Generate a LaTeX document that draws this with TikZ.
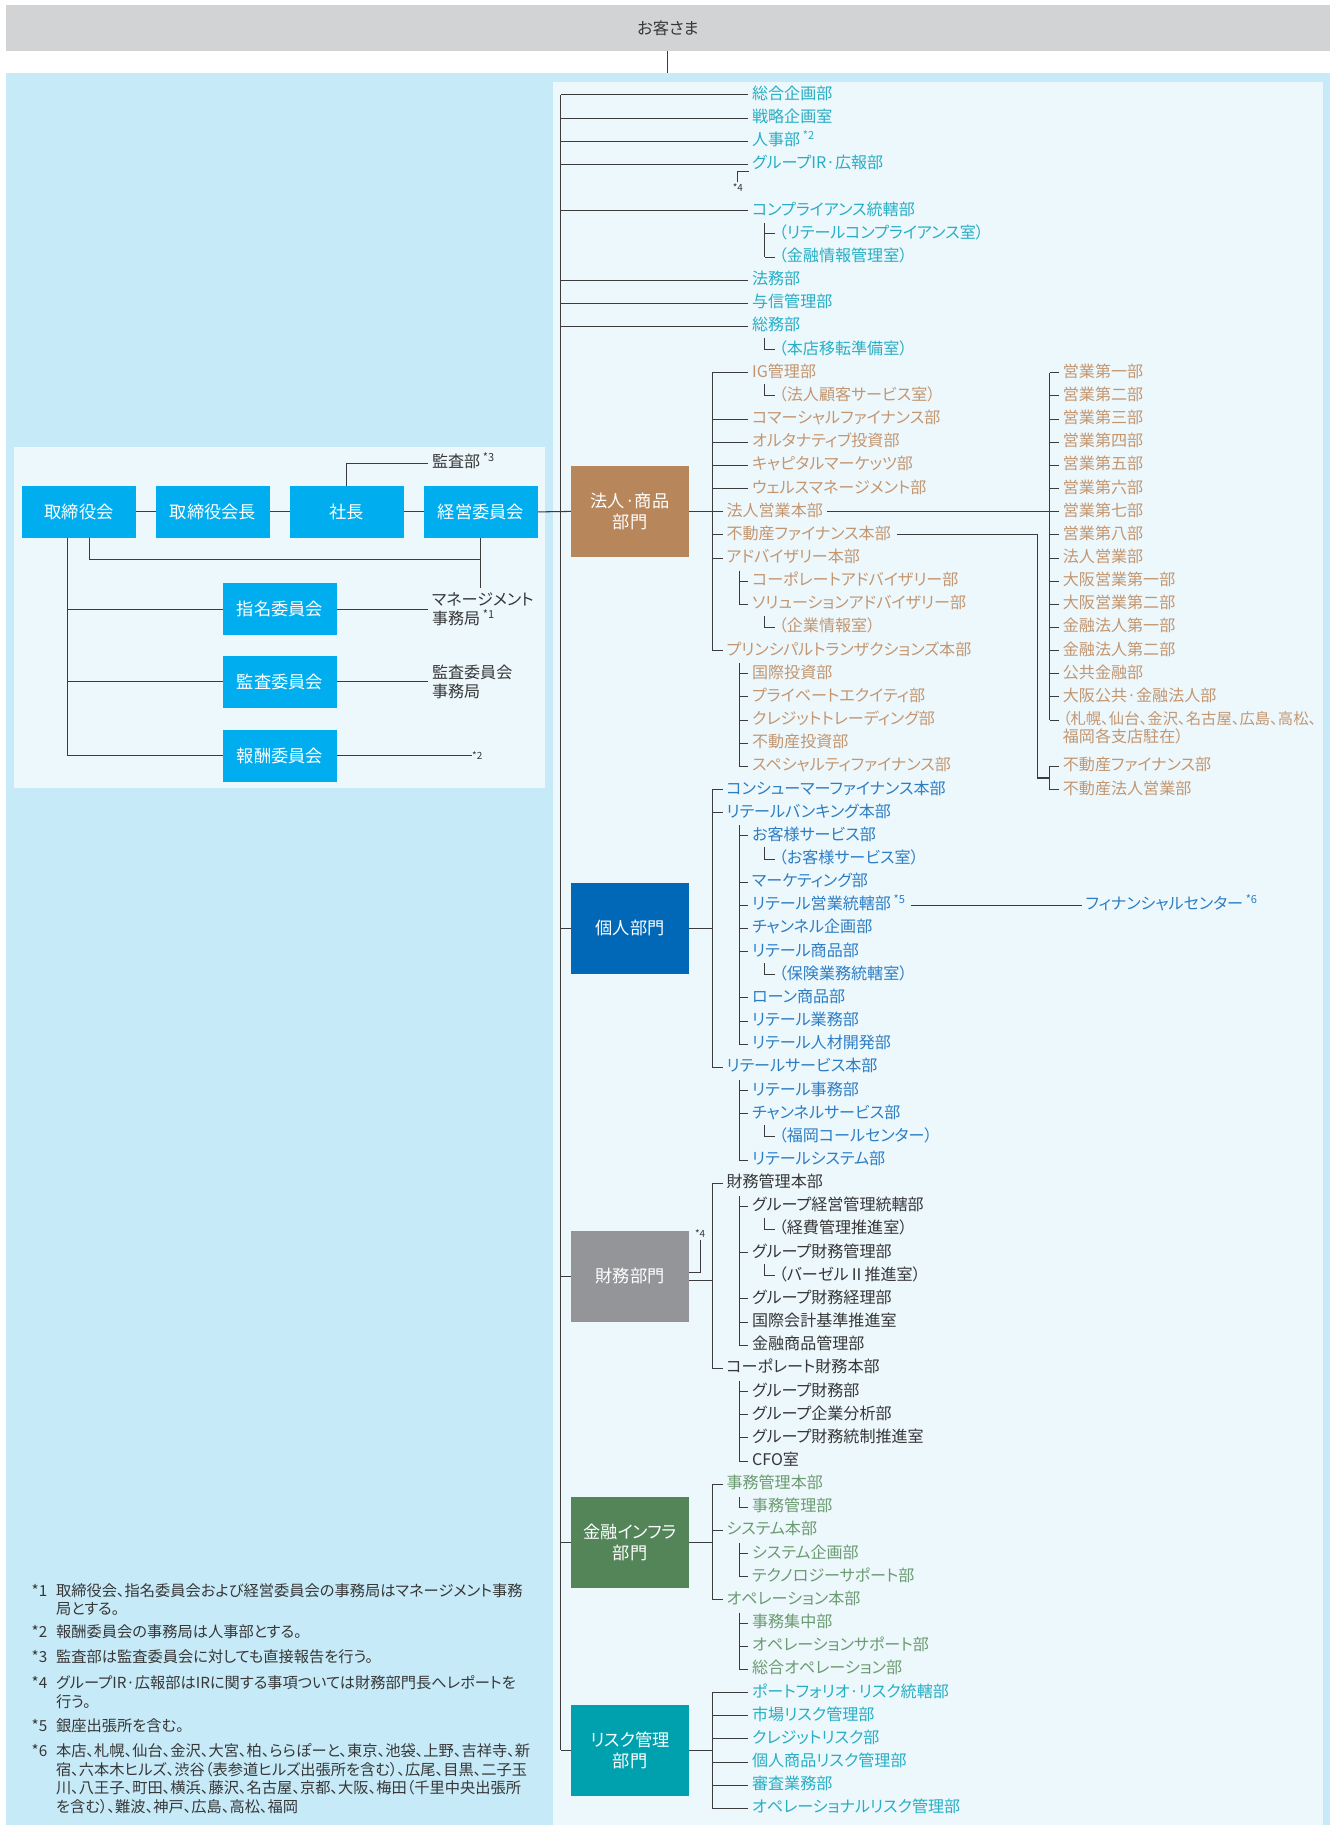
\documentclass[tikz,border=0pt]{standalone}
\usepackage{fontspec}
\setmainfont{Noto Sans CJK JP}[RawFeature={+palt}]
\definecolor{graybar}{RGB}{209,211,212}
\definecolor{bgblue}{RGB}{199,234,248}
\definecolor{panel}{RGB}{237,248,253}
\definecolor{linec}{RGB}{60,60,60}
\definecolor{boardc}{RGB}{0,174,239}
\definecolor{brbox}{RGB}{184,134,91}
\definecolor{blbox}{RGB}{0,104,183}
\definecolor{gybox}{RGB}{147,149,152}
\definecolor{grbox}{RGB}{83,133,89}
\definecolor{tlbox}{RGB}{0,161,175}
\definecolor{ctl}{RGB}{40,174,196}
\definecolor{cbr}{RGB}{195,150,112}
\definecolor{cbl}{RGB}{45,125,195}
\definecolor{cdk}{RGB}{55,55,55}
\definecolor{cgr}{RGB}{107,155,112}
\newcommand\ry[1]{(81.6+19.893*(#1))}
\newcommand\sast[1]{\,\raisebox{0.36em}{\fontsize{9.5}{9.5}\selectfont *#1}}
\newcommand\kids[3]{\draw[ln] (635,{\ry{#1}-9}) -- (635,{\ry{#2}}); \foreach \n in {#3} {\draw[ln] (\n.west) -- +(-8,0);}}
\newcommand\subl[1]{\draw[ln] (#1.west) -| +(-9,-10);}
\tikzset{
 ln/.style={draw=linec,line width=0.9pt},
 lbl/.style={anchor=west,inner xsep=3pt,inner ysep=0pt,text height=0.88em,text depth=0.12em,font=\fontsize{13.8}{16}\selectfont},
 mlbl/.style={anchor=west,inner xsep=3pt,inner ysep=0pt,align=left,text=cdk,font=\fontsize{13.8}{15.8}\selectfont},
 dept/.style={minimum width=101.4pt,minimum height=78pt,inner sep=0pt,text=white,align=center,font=\fontsize{14.8}{17.8}\selectfont},
 brd/.style={fill=boardc,minimum width=98pt,minimum height=44.4pt,inner sep=0pt,text=white,font=\fontsize{14.8}{17}\selectfont},
 tinyl/.style={inner sep=0pt,font=\fontsize{8.5}{8.5}\selectfont,text=cdk},
 fn/.style={anchor=west,inner sep=0pt,text height=0.88em,text depth=0.12em,text=cdk,font=\fontsize{13.1}{15}\selectfont},
}
\begin{document}
\begin{tikzpicture}[x=1pt,y=-1pt]
\useasboundingbox (0,0) rectangle (1147,1568);
% backgrounds
\fill[bgblue] (5,62.4) rectangle (1142.7,1568);
\fill[panel] (474.8,70.2) rectangle (1137,1568);
\fill[panel] (11.7,383.8) rectangle (468,677.3);
\node[fill=graybar,minimum width=1137.7pt,minimum height=39.2pt,inner sep=0pt,text=cdk,font=\fontsize{14}{16}\selectfont] (kyaku) at (573.85,23.9) {お客さま};
\coordinate (kyb) at (573.85,62.4);
\draw[ln] (kyaku.south) -- (kyb);

% ---------- board area ----------
\node[brd] (torishimari) at (68,439.8) {取締役会};
\node[brd] (kaicho) at (183,439.8) {取締役会長};
\node[brd] (shacho) at (298,439.8) {社長};
\node[brd] (keiei) at (413.2,439.8) {経営委員会};
\node[brd] (shimei) at (240.5,523.3) {指名委員会};
\node[brd] (kansaiin) at (240.5,585.8) {監査委員会};
\node[brd] (housyu) at (240.5,649.4) {報酬委員会};
\node[lbl,text=cdk] (kansabu) at (368,398) {監査部\sast{3}};
\node[mlbl] (mgmt) at (368,523.3) {マネージメント\\事務局\sast{1}};
\node[mlbl] (ksjim) at (368,585.8) {監査委員会\\事務局};
\node[tinyl,anchor=west] (ast2) at (405.5,649.4) {*2};
\coordinate (jn) at (413.2,481);
\coordinate (mgtop) at (413.2,505);
\coordinate (B) at ([xshift=-10.3pt]torishimari.south);
\draw[ln] (torishimari.east) -- (kaicho.west);
\draw[ln] (kaicho.east) -- (shacho.west);
\draw[ln] (shacho.east) -- (keiei.west);
\draw[ln] (shacho.north) |- (kansabu.west);
\draw[ln] (keiei.south) -- (mgtop);
\draw[ln] ([xshift=8.7pt]torishimari.south) |- (jn);
\draw[ln] (B) |- (housyu.west);
\draw[ln] (shimei.west) -- (shimei.west -| B);
\draw[ln] (kansaiin.west) -- (kansaiin.west -| B);
\draw[ln] (shimei.east) -- (mgmt.west);
\draw[ln] (kansaiin.east) -- (ksjim.west);
\draw[ln] (housyu.east) -- (ast2.west);

% ---------- division boxes ----------
\node[dept,fill=brbox] (houjinbox) at (541.3,439.4) {法人·商品\\部門};
\node[dept,fill=blbox] (kojinbox) at (541.3,797.5) {個人部門};
\node[dept,fill=gybox] (zaimubox) at (541.3,1096.6) {財務部門};
\node[dept,fill=grbox] (kinyubox) at (541.3,1325.1) {金融インフラ\\部門};
\node[dept,fill=tlbox] (riskbox) at (541.3,1503.9) {リスク管理\\部門};

\draw[ln] (keiei.east) -- (houjinbox.west);
\coordinate (T) at (481.7,{\ry{0}});
\draw[ln] (T) -- (T |- riskbox.west);
\foreach \n in {kojinbox,zaimubox,kinyubox,riskbox} {\draw[ln] (\n.west) -- (\n.west -| T);}

% ---------- top staff departments ----------
\node[lbl,text=ctl] (t0) at (643,{\ry{0}}) {総合企画部};
\node[lbl,text=ctl] (t1) at (643,{\ry{1}}) {戦略企画室};
\node[lbl,text=ctl] (t2) at (643,{\ry{2}}) {人事部\sast{2}};
\node[lbl,text=ctl] (t3) at (643,{\ry{3}}) {グループIR·広報部};
\node[lbl,text=ctl] (t5) at (643,{\ry{5}}) {コンプライアンス統轄部};
\node[lbl,text=ctl] (t6) at (666,{\ry{6}}) {（リテールコンプライアンス室）};
\node[lbl,text=ctl] (t7) at (666,{\ry{7}}) {（金融情報管理室）};
\node[lbl,text=ctl] (t8) at (643,{\ry{8}}) {法務部};
\node[lbl,text=ctl] (t9) at (643,{\ry{9}}) {与信管理部};
\node[lbl,text=ctl] (t10) at (643,{\ry{10}}) {総務部};
\node[lbl,text=ctl] (t11) at (666,{\ry{11}}) {（本店移転準備室）};
\foreach \n in {t0,t1,t2,t3,t5,t8,t9,t10} {\draw[ln] (\n.west) -- (\n.west -| T);}
\draw[ln] (657,{\ry{6}-9}) -- (657,{\ry{7}});
\draw[ln] (t6.west) -- +(-9,0);
\draw[ln] (t7.west) -- +(-9,0);
\subl{t11}
\node[tinyl] (ast4a) at (634,161.5) {*4};
\draw[ln] ([yshift=1.5pt]ast4a.north) |- +(9.5,-9);

% ---------- 法人・商品部門 ----------
\node[lbl,text=cbr] (a12) at (643,{\ry{12}}) {IG管理部};
\node[lbl,text=cbr] (a13) at (666,{\ry{13}}) {（法人顧客サービス室）};
\node[lbl,text=cbr] (a14) at (643,{\ry{14}}) {コマーシャルファイナンス部};
\node[lbl,text=cbr] (a15) at (643,{\ry{15}}) {オルタナティブ投資部};
\node[lbl,text=cbr] (a16) at (643,{\ry{16}}) {キャピタルマーケッツ部};
\node[lbl,text=cbr] (a17) at (643,{\ry{17}}) {ウェルスマネージメント部};
\node[lbl,text=cbr] (a18) at (621,{\ry{18}}) {法人営業本部};
\node[lbl,text=cbr] (a19) at (621,{\ry{19}}) {不動産ファイナンス本部};
\node[lbl,text=cbr] (a20) at (621,{\ry{20}}) {アドバイザリー本部};
\node[lbl,text=cbr] (a21) at (643,{\ry{21}}) {コーポレートアドバイザリー部};
\node[lbl,text=cbr] (a22) at (643,{\ry{22}}) {ソリューションアドバイザリー部};
\node[lbl,text=cbr] (a23) at (666,{\ry{23}}) {（企業情報室）};
\node[lbl,text=cbr] (a24) at (621,{\ry{24}}) {プリンシパルトランザクションズ本部};
\node[lbl,text=cbr] (a25) at (643,{\ry{25}}) {国際投資部};
\node[lbl,text=cbr] (a26) at (643,{\ry{26}}) {プライベートエクイティ部};
\node[lbl,text=cbr] (a27) at (643,{\ry{27}}) {クレジットトレーディング部};
\node[lbl,text=cbr] (a28) at (643,{\ry{28}}) {不動産投資部};
\node[lbl,text=cbr] (a29) at (643,{\ry{29}}) {スペシャルティファイナンス部};
\coordinate (S1) at (612,{\ry{12}});
\draw[ln] (S1) -- (S1 |- a24.west);
\draw[ln] (houjinbox.east) -- (houjinbox.east -| S1);
\foreach \n in {a12,a14,a15,a16,a17,a18,a19,a20,a24} {\draw[ln] (\n.west) -- (\n.west -| S1);}
\subl{a13}
\kids{21}{22}{a21,a22}
\subl{a23}
\kids{25}{29}{a25,a26,a27,a28,a29}

% right column
\foreach \r/\t in {12/営業第一部,13/営業第二部,14/営業第三部,15/営業第四部,16/営業第五部,17/営業第六部,18/営業第七部,19/営業第八部,20/法人営業部,21/大阪営業第一部,22/大阪営業第二部,23/金融法人第一部,24/金融法人第二部,25/公共金融部,26/大阪公共·金融法人部} {
  \node[lbl,text=cbr] (rc\r) at (910,{\ry{\r}}) {\t};
  \draw[ln] (rc\r.west) -- +(-8,0);
}
\node[lbl,text=cbr,font=\fontsize{13.2}{16}\selectfont] (rc27) at (910,{\ry{27}}) {（札幌、仙台、金沢、名古屋、広島、高松、};
\node[lbl,text=cbr] (rc27b) at (910,{\ry{27}+15.8}) {福岡各支店駐在）};
\draw[ln] (rc27.west) -- +(-8,0);
\coordinate (RC) at (902,{\ry{12}});
\draw[ln] (RC) -- (RC |- rc27.west);
\draw[ln] (a18.east) -- (a18.east -| RC);
\node[lbl,text=cbr] (rf1) at (910,{\ry{29}}) {不動産ファイナンス部};
\node[lbl,text=cbr] (rf2) at (910,{\ry{30}}) {不動産法人営業部};
\coordinate (FJ) at (902,{\ry{29.5}});
\draw[ln] ([xshift=2pt]a19.east) -| ([xshift=-10.7pt]FJ) -- (FJ);
\draw[ln] (rf1.west) -- +(-8,0) |- (rf2.west);

% ---------- 個人部門 ----------
\node[lbl,text=cbl] (b30) at (621,{\ry{30}}) {コンシューマーファイナンス本部};
\node[lbl,text=cbl] (b31) at (621,{\ry{31}}) {リテールバンキング本部};
\node[lbl,text=cbl] (b32) at (643,{\ry{32}}) {お客様サービス部};
\node[lbl,text=cbl] (b33) at (666,{\ry{33}}) {（お客様サービス室）};
\node[lbl,text=cbl] (b34) at (643,{\ry{34}}) {マーケティング部};
\node[lbl,text=cbl] (b35) at (643,{\ry{35}}) {リテール営業統轄部\sast{5}};
\node[lbl,text=cbl] (b36) at (643,{\ry{36}}) {チャンネル企画部};
\node[lbl,text=cbl] (b37) at (643,{\ry{37}}) {リテール商品部};
\node[lbl,text=cbl] (b38) at (666,{\ry{38}}) {（保険業務統轄室）};
\node[lbl,text=cbl] (b39) at (643,{\ry{39}}) {ローン商品部};
\node[lbl,text=cbl] (b40) at (643,{\ry{40}}) {リテール業務部};
\node[lbl,text=cbl] (b41) at (643,{\ry{41}}) {リテール人材開発部};
\node[lbl,text=cbl] (b42) at (621,{\ry{42}}) {リテールサービス本部};
\node[lbl,text=cbl] (b43) at (643,{\ry{43}}) {リテール事務部};
\node[lbl,text=cbl] (b44) at (643,{\ry{44}}) {チャンネルサービス部};
\node[lbl,text=cbl] (b45) at (666,{\ry{45}}) {（福岡コールセンター）};
\node[lbl,text=cbl] (b46) at (643,{\ry{46}}) {リテールシステム部};
\node[lbl,text=cbl] (fc) at (929.5,{\ry{35}}) {フィナンシャルセンター\sast{6}};
\coordinate (S2) at (612,{\ry{30}});
\draw[ln] (S2) -- (S2 |- b42.west);
\draw[ln] (kojinbox.east) -- (kojinbox.east -| S2);
\foreach \n in {b30,b31,b42} {\draw[ln] (\n.west) -- (\n.west -| S2);}
\kids{32}{41}{b32,b34,b35,b36,b37,b39,b40,b41}
\subl{b33}
\subl{b38}
\kids{43}{46}{b43,b44,b46}
\subl{b45}
\draw[ln] ([xshift=2pt]b35.east) -- (fc.west);

% ---------- 財務部門 ----------
\node[lbl,text=cdk] (c47) at (621,{\ry{47}}) {財務管理本部};
\node[lbl,text=cdk] (c48) at (643,{\ry{48}}) {グループ経営管理統轄部};
\node[lbl,text=cdk] (c49) at (666,{\ry{49}}) {（経費管理推進室）};
\node[lbl,text=cdk] (c50) at (643,{\ry{50}}) {グループ財務管理部};
\node[lbl,text=cdk] (c51) at (666,{\ry{51}}) {（バーゼルⅡ推進室）};
\node[lbl,text=cdk] (c52) at (643,{\ry{52}}) {グループ財務経理部};
\node[lbl,text=cdk] (c53) at (643,{\ry{53}}) {国際会計基準推進室};
\node[lbl,text=cdk] (c54) at (643,{\ry{54}}) {金融商品管理部};
\node[lbl,text=cdk] (c55) at (621,{\ry{55}}) {コーポレート財務本部};
\node[lbl,text=cdk] (c56) at (643,{\ry{56}}) {グループ財務部};
\node[lbl,text=cdk] (c57) at (643,{\ry{57}}) {グループ企業分析部};
\node[lbl,text=cdk] (c58) at (643,{\ry{58}}) {グループ財務統制推進室};
\node[lbl,text=cdk] (c59) at (643,{\ry{59}}) {CFO室};
\coordinate (S3) at (612,{\ry{47}});
\draw[ln] (S3) -- (S3 |- c55.west);
\draw[ln] ([yshift=-3.2pt]zaimubox.east) -- +(20.3,0);
\foreach \n in {c47,c55} {\draw[ln] (\n.west) -- (\n.west -| S3);}
\kids{48}{54}{c48,c50,c52,c53,c54}
\subl{c49}
\subl{c51}
\kids{56}{59}{c56,c57,c58,c59}
\node[tinyl] (ast4b) at (601.5,1060) {*4};
\draw[ln] ([yshift=3.6pt]zaimubox.east) -| ([yshift=-1.5pt]ast4b.south);

% ---------- 金融インフラ部門 ----------
\node[lbl,text=cgr] (d60) at (621,{\ry{60}}) {事務管理本部};
\node[lbl,text=cgr] (d61) at (643,{\ry{61}}) {事務管理部};
\node[lbl,text=cgr] (d62) at (621,{\ry{62}}) {システム本部};
\node[lbl,text=cgr] (d63) at (643,{\ry{63}}) {システム企画部};
\node[lbl,text=cgr] (d64) at (643,{\ry{64}}) {テクノロジーサポート部};
\node[lbl,text=cgr] (d65) at (621,{\ry{65}}) {オペレーション本部};
\node[lbl,text=cgr] (d66) at (643,{\ry{66}}) {事務集中部};
\node[lbl,text=cgr] (d67) at (643,{\ry{67}}) {オペレーションサポート部};
\node[lbl,text=cgr] (d68) at (643,{\ry{68}}) {総合オペレーション部};
\coordinate (S4) at (612,{\ry{60}});
\draw[ln] (S4) -- (S4 |- d65.west);
\draw[ln] (kinyubox.east) -- (kinyubox.east -| S4);
\foreach \n in {d60,d62,d65} {\draw[ln] (\n.west) -- (\n.west -| S4);}
\kids{61}{61}{d61}
\kids{63}{64}{d63,d64}
\kids{66}{68}{d66,d67,d68}

% ---------- リスク管理部門 ----------
\node[lbl,text=ctl] (e69) at (643,{\ry{69}}) {ポートフォリオ·リスク統轄部};
\node[lbl,text=ctl] (e70) at (643,{\ry{70}}) {市場リスク管理部};
\node[lbl,text=ctl] (e71) at (643,{\ry{71}}) {クレジットリスク部};
\node[lbl,text=ctl] (e72) at (643,{\ry{72}}) {個人商品リスク管理部};
\node[lbl,text=ctl] (e73) at (643,{\ry{73}}) {審査業務部};
\node[lbl,text=ctl] (e74) at (643,{\ry{74}}) {オペレーショナルリスク管理部};
\coordinate (S5) at (612,{\ry{69}});
\draw[ln] (S5) -- (S5 |- e74.west);
\draw[ln] (riskbox.east) -- (riskbox.east -| S5);
\foreach \n in {e69,e70,e71,e72,e73,e74} {\draw[ln] (\n.west) -- (\n.west -| S5);}

% ---------- footnotes ----------
\node[fn] (fm1) at (27,1367.5) {*1};
\node[fn] (f1a) at (48,1367.5) {取締役会、指名委員会および経営委員会の事務局はマネージメント事務};
\node[fn] (f1b) at (48,1383.2) {局とする。};
\node[fn] (fm2) at (27,1403.3) {*2};
\node[fn] (f2) at (48,1403.3) {報酬委員会の事務局は人事部とする。};
\node[fn] (fm3) at (27,1424.5) {*3};
\node[fn] (f3) at (48,1424.5) {監査部は監査委員会に対しても直接報告を行う。};
\node[fn] (fm4) at (27,1446.9) {*4};
\node[fn] (f4a) at (48,1446.9) {グループIR·広報部はIRに関する事項ついては財務部門長へレポートを};
\node[fn] (f4b) at (48,1462.9) {行う。};
\node[fn] (fm5) at (27,1484) {*5};
\node[fn] (f5) at (48,1484) {銀座出張所を含む。};
\node[fn] (fm6) at (27,1505) {*6};
\node[fn] (f6a) at (48,1505) {本店、札幌、仙台、金沢、大宮、柏、ららぽーと、東京、池袋、上野、吉祥寺、新};
\node[fn] (f6b) at (48,1521.3) {宿、六本木ヒルズ、渋谷（表参道ヒルズ出張所を含む）、広尾、目黒、二子玉};
\node[fn] (f6c) at (48,1537.4) {川、八王子、町田、横浜、藤沢、名古屋、京都、大阪、梅田（千里中央出張所};
\node[fn] (f6d) at (48,1553.6) {を含む）、難波、神戸、広島、高松、福岡};
\end{tikzpicture}
\end{document}
